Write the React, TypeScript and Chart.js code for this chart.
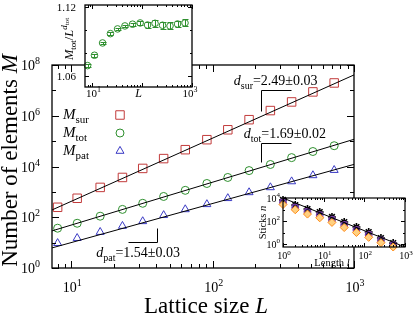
import React, { useEffect, useRef } from 'react';
import { Chart, registerables } from 'chart.js';

Chart.register(...registerables);

// ---------------- main panel data ----------------
const latticeSizes = [8, 11, 16, 23, 32, 45, 64, 91, 128, 181, 256, 362, 512, 724];
const mSur = [247, 560, 1500, 3700, 8400, 20500, 46000, 114000, 280000, 700000, 1.6e6, 3.5e6, 8.7e6, 1.96e7];
const mTot = [37, 58, 110, 204, 355, 660, 1150, 2140, 3700, 6900, 12000, 22400, 39000, 66000];
const mPat = [9.5, 15, 26, 45, 69, 120, 204, 324, 560, 955, 1500, 2570, 4470, 7200];
const fitRangeL = [7.3, 1000];
const fitSur = [194, 4.06e7];
const fitTot = [29, 1.18e5];
const fitPat = [6.2, 1.21e4];
const mainYTickExps = [0, 2, 4, 6, 8];
const mainXTickExps = [1, 2, 3];
const slopeLabels = [
  { sub: 'sur', text: '=2.49±0.03', L: 141, M: 1.64e7 },
  { sub: 'tot', text: '=1.69±0.02', L: 166, M: 1.37e5 },
  { sub: 'pat', text: '=1.54±0.03', L: 15, M: 2.7 },
];
const slopeBrackets = [
  [[357, 1.05e7], [219, 1.05e7], [219, 1.58e6]],
  [[357, 8.7e4], [219, 8.7e4], [219, 1.44e4]],
  [[25, 10.5], [40.7, 10.5], [40.7, 37]],
];

// ---------------- inset 1 data ----------------
const insetRatio = [1.069, 1.078, 1.0887, 1.0968, 1.1009, 1.1035, 1.105, 1.1061, 1.1043, 1.1058, 1.1041, 1.1035, 1.1052, 1.1061];
const insetErr = [0.0012, 0.0012, 0.0012, 0.0012, 0.0012, 0.0012, 0.0013, 0.0014, 0.003, 0.003, 0.003, 0.003, 0.003, 0.003];
const insetYTicks = [1.06, 1.12];

// ---------------- inset 2 data ----------------
const stickLengths = [1, 2, 4, 8, 16, 32, 64, 128, 256, 512];
const sticksBlack = [6760, 2450, 1100, 600, 224, 81, 30, 11, 3.3, 1.2];
const sticksPurple = [4200, 1500, 650, 330, 130, 46, 17, 6.5, 2.1, 0.8];
const sticksOrange = [2700, 950, 400, 190, 75, 27, 10, 3.8, 1.3, 0.55];
const stickFitL = [1, 1000];
const stickFitN = [1.0e4, 0.55];

// ---------------- helpers ----------------
const SERIF = '"Liberation Serif", "Times New Roman", Times, serif';
const F = (size: number, italic = false) => `${italic ? 'italic ' : ''}${size}px ${SERIF}`;

type Seg = { t: string; font: string; dy?: number };

function richWidth(ctx: CanvasRenderingContext2D, segs: Seg[]) {
  let w = 0;
  for (const s of segs) {
    ctx.font = s.font;
    w += ctx.measureText(s.t).width;
  }
  return w;
}

function drawRich(ctx: CanvasRenderingContext2D, segs: Seg[], x: number, y: number, align: 'left' | 'center' | 'right') {
  const w = richWidth(ctx, segs);
  let cx = align === 'left' ? x : align === 'center' ? x - w / 2 : x - w;
  ctx.textAlign = 'left';
  ctx.textBaseline = 'alphabetic';
  for (const s of segs) {
    ctx.font = s.font;
    ctx.fillText(s.t, cx, y + (s.dy || 0));
    cx += ctx.measureText(s.t).width;
  }
}

function pow10(exp: number, base: number, sup: number, dy: number): Seg[] {
  return [
    { t: '10', font: F(base) },
    { t: String(exp), font: F(sup), dy: -dy },
  ];
}

function logTickList(min: number, max: number, minor: boolean) {
  const out: { v: number; major: boolean; d: number }[] = [];
  const d0 = Math.floor(Math.log10(min));
  const d1 = Math.ceil(Math.log10(max));
  for (let d = d0; d <= d1; d++) {
    for (let m = 1; m <= (minor ? 9 : 1); m++) {
      const v = m * Math.pow(10, d);
      if (v >= min * 0.9999 && v <= max * 1.0001) out.push({ v, major: m === 1, d });
    }
  }
  return out;
}

function drawTicksX(chart: any, ticks: { v: number; major: boolean }[], majorLen: number, minorLen: number) {
  const ctx = chart.ctx as CanvasRenderingContext2D;
  const a = chart.chartArea;
  const s = chart.scales.x;
  ctx.beginPath();
  for (const t of ticks) {
    const p = Math.round(s.getPixelForValue(t.v)) + 0.5;
    const len = t.major ? majorLen : minorLen;
    ctx.moveTo(p, a.bottom);
    ctx.lineTo(p, a.bottom - len);
    ctx.moveTo(p, a.top);
    ctx.lineTo(p, a.top + len);
  }
  ctx.stroke();
}

function drawTicksY(chart: any, ticks: { v: number; major: boolean }[], majorLen: number, minorLen: number) {
  const ctx = chart.ctx as CanvasRenderingContext2D;
  const a = chart.chartArea;
  const s = chart.scales.y;
  ctx.beginPath();
  for (const t of ticks) {
    const p = Math.round(s.getPixelForValue(t.v)) + 0.5;
    const len = t.major ? majorLen : minorLen;
    ctx.moveTo(a.left, p);
    ctx.lineTo(a.left + len, p);
    ctx.moveTo(a.right, p);
    ctx.lineTo(a.right - len, p);
  }
  ctx.stroke();
}

function drawMarker(ctx: CanvasRenderingContext2D, style: string, x: number, y: number, r: number, color: string) {
  ctx.save();
  ctx.strokeStyle = color;
  ctx.lineWidth = 1;
  ctx.beginPath();
  if (style === 'rect') {
    const s = r * Math.SQRT1_2;
    ctx.rect(x - s, y - s, 2 * s, 2 * s);
  } else if (style === 'circle') {
    ctx.arc(x, y, r, 0, Math.PI * 2);
  } else {
    let rad = 0;
    ctx.moveTo(x + Math.sin(rad) * r, y - Math.cos(rad) * r);
    rad += (2 * Math.PI) / 3;
    ctx.lineTo(x + Math.sin(rad) * r, y - Math.cos(rad) * r);
    rad += (2 * Math.PI) / 3;
    ctx.lineTo(x + Math.sin(rad) * r, y - Math.cos(rad) * r);
    ctx.closePath();
  }
  ctx.stroke();
  ctx.restore();
}

const RED = '#c23b3b';
const GREEN = '#2e8f2e';
const BLUE = '#3a3ac4';

// ---------------- main decoration plugin ----------------
const mainDecor = {
  id: 'mainDecor',
  afterDraw(chart: any) {
    const ctx = chart.ctx as CanvasRenderingContext2D;
    const a = chart.chartArea;
    const xs = chart.scales.x;
    const ys = chart.scales.y;
    ctx.save();
    ctx.strokeStyle = '#000';
    ctx.fillStyle = '#000';
    ctx.lineWidth = 1;

    drawTicksX(chart, logTickList(xs.min, xs.max, true), 7, 4);
    const yt = logTickList(ys.min, ys.max, false).map((t) => ({ v: t.v, major: t.d % 2 === 0 }));
    drawTicksY(chart, yt, 7, 4);

    ctx.lineWidth = 1.3;
    ctx.strokeRect(a.left, a.top, a.right - a.left, a.bottom - a.top);

    // tick labels
    for (const e of mainYTickExps) {
      const y = ys.getPixelForValue(Math.pow(10, e));
      drawRich(ctx, pow10(e, 14, 10, 6), a.left - 12, y + 5, 'right');
    }
    for (const e of mainXTickExps) {
      const x = xs.getPixelForValue(Math.pow(10, e));
      drawRich(ctx, pow10(e, 14, 10, 6), x + 1, a.bottom + 24, 'center');
    }

    // axis titles
    drawRich(ctx, [{ t: 'Lattice size ', font: F(23) }, { t: 'L', font: F(23, true) }], (a.left + a.right) / 2 + 3, a.bottom + 45, 'center');
    ctx.save();
    ctx.translate(17, (a.top + a.bottom) / 2 - 6);
    ctx.rotate(-Math.PI / 2);
    drawRich(ctx, [{ t: 'Number of elements ', font: F(23) }, { t: 'M', font: F(23, true) }], 0, 0, 'center');
    ctx.restore();

    // legend
    const legend = [
      { sub: 'sur', style: 'rect', r: 6, color: RED },
      { sub: 'tot', style: 'circle', r: 4, color: GREEN },
      { sub: 'pat', style: 'triangle', r: 4.6, color: BLUE },
    ];
    legend.forEach((l, i) => {
      const cy = a.top + 50 + i * 18;
      drawRich(ctx, [{ t: 'M', font: F(15, true) }, { t: l.sub, font: F(11), dy: 4 }], a.left + 11, cy + 4, 'left');
      drawMarker(ctx, l.style, a.left + 68, cy, l.r, l.color);
    });

    // slope annotations
    ctx.fillStyle = '#000';
    for (const s of slopeLabels) {
      drawRich(
        ctx,
        [
          { t: 'd', font: F(14, true) },
          { t: s.sub, font: F(10), dy: 4 },
          { t: s.text, font: F(14) },
        ],
        xs.getPixelForValue(s.L),
        ys.getPixelForValue(s.M),
        'left'
      );
    }
    ctx.lineWidth = 1;
    ctx.strokeStyle = '#000';
    for (const b of slopeBrackets) {
      ctx.beginPath();
      b.forEach((p, i) => {
        const px = Math.round(xs.getPixelForValue(p[0])) + 0.5;
        const py = Math.round(ys.getPixelForValue(p[1])) + 0.5;
        if (i === 0) ctx.moveTo(px, py);
        else ctx.lineTo(px, py);
      });
      ctx.stroke();
    }
    ctx.restore();
  },
};

// ---------------- inset 1 plugin ----------------
const inset1Decor = {
  id: 'inset1Decor',
  beforeDraw(chart: any) {
    const ctx = chart.ctx as CanvasRenderingContext2D;
    const a = chart.chartArea;
    ctx.save();
    ctx.fillStyle = '#fff';
    ctx.fillRect(a.left, a.top, a.right - a.left, a.bottom - a.top);
    ctx.restore();
  },
  afterDatasetsDraw(chart: any) {
    const ctx = chart.ctx as CanvasRenderingContext2D;
    const xs = chart.scales.x;
    const ys = chart.scales.y;
    ctx.save();
    ctx.strokeStyle = GREEN;
    ctx.lineWidth = 1;
    ctx.beginPath();
    latticeSizes.forEach((L, i) => {
      const x = Math.round(xs.getPixelForValue(L)) + 0.5;
      const y1 = Math.round(ys.getPixelForValue(insetRatio[i] - insetErr[i])) + 0.5;
      const y2 = Math.round(ys.getPixelForValue(insetRatio[i] + insetErr[i])) + 0.5;
      ctx.moveTo(x, y1);
      ctx.lineTo(x, y2);
      ctx.moveTo(x - 3, y1);
      ctx.lineTo(x + 3, y1);
      ctx.moveTo(x - 3, y2);
      ctx.lineTo(x + 3, y2);
    });
    ctx.stroke();
    ctx.restore();
  },
  afterDraw(chart: any) {
    const ctx = chart.ctx as CanvasRenderingContext2D;
    const a = chart.chartArea;
    const xs = chart.scales.x;
    const ys = chart.scales.y;
    ctx.save();
    ctx.strokeStyle = '#000';
    ctx.fillStyle = '#000';
    ctx.lineWidth = 1;
    drawTicksX(chart, logTickList(xs.min, xs.max, true), 4, 2);
    drawTicksY(
      chart,
      [1.06, 1.08, 1.1, 1.12].map((v) => ({ v, major: insetYTicks.includes(v) })),
      4,
      2
    );
    ctx.lineWidth = 1.3;
    ctx.strokeRect(a.left, a.top, a.right - a.left, a.bottom - a.top);

    for (const v of insetYTicks) {
      drawRich(ctx, [{ t: v.toFixed(2), font: F(11) }], a.left - 9, ys.getPixelForValue(v) + 4, 'right');
    }
    drawRich(ctx, pow10(1, 11, 8, 5), xs.getPixelForValue(10) + 1, a.bottom + 10, 'center');
    drawRich(ctx, pow10(3, 11, 8, 5), xs.getPixelForValue(1000) - 2, a.bottom + 10, 'center');
    drawRich(ctx, [{ t: 'L', font: F(12, true) }], (a.left + a.right) / 2, a.bottom + 10, 'center');

    ctx.save();
    ctx.translate(a.left - 12, a.top + 34);
    ctx.rotate(-Math.PI / 2);
    drawRich(
      ctx,
      [
        { t: 'M', font: F(12.5, true) },
        { t: 'tot', font: F(9), dy: 2.5 },
        { t: '/', font: F(12.5) },
        { t: 'L', font: F(12.5, true) },
        { t: 'd', font: F(9, true), dy: -6 },
        { t: 'tot', font: F(7), dy: -4 },
      ],
      0,
      0,
      'center'
    );
    ctx.restore();
    ctx.restore();
  },
};

// ---------------- inset 2 plugin ----------------
const inset2Decor = {
  id: 'inset2Decor',
  beforeDraw(chart: any) {
    const ctx = chart.ctx as CanvasRenderingContext2D;
    const a = chart.chartArea;
    ctx.save();
    ctx.fillStyle = '#fff';
    ctx.fillRect(a.left, a.top, a.right - a.left, a.bottom - a.top);
    ctx.restore();
  },
  afterDraw(chart: any) {
    const ctx = chart.ctx as CanvasRenderingContext2D;
    const a = chart.chartArea;
    const xs = chart.scales.x;
    const ys = chart.scales.y;
    ctx.save();
    ctx.strokeStyle = '#000';
    ctx.fillStyle = '#000';
    ctx.lineWidth = 1;
    drawTicksX(chart, logTickList(xs.min, xs.max, true), 4, 2);
    const yt = logTickList(ys.min, ys.max, false).map((t) => ({ v: t.v, major: t.d % 2 === 0 }));
    drawTicksY(chart, yt, 4, 2);
    ctx.lineWidth = 1.2;
    ctx.strokeRect(a.left, a.top, a.right - a.left, a.bottom - a.top);

    for (const e of [0, 1, 2, 3]) {
      drawRich(ctx, pow10(e, 10, 7, 4.5), xs.getPixelForValue(Math.pow(10, e)) + 1, a.bottom + 12, 'center');
    }
    for (const e of [0, 2, 4]) {
      drawRich(ctx, pow10(e, 10, 7, 4.5), a.left - 3, ys.getPixelForValue(Math.pow(10, e)) + 3.5, 'right');
    }
    drawRich(ctx, [{ t: 'Length ', font: F(10.5) }, { t: 'l', font: F(10.5, true) }], a.left + 49, a.bottom + 19, 'center');
    ctx.save();
    ctx.translate(a.left - 17, (a.top + a.bottom) / 2);
    ctx.rotate(-Math.PI / 2);
    drawRich(ctx, [{ t: 'Sticks ', font: F(10.5) }, { t: 'n', font: F(10.5, true) }], 0, 0, 'center');
    ctx.restore();
    ctx.restore();
  },
};

function pts(xs: number[], ys: number[]) {
  return xs.map((x, i) => ({ x, y: ys[i] }));
}

export default function App() {
  const mainRef = useRef<HTMLCanvasElement>(null);
  const in1Ref = useRef<HTMLCanvasElement>(null);
  const in2Ref = useRef<HTMLCanvasElement>(null);

  useEffect(() => {
    const charts: Chart[] = [];
    const baseOpts = {
      animation: false as const,
      responsive: false,
      maintainAspectRatio: false,
      events: [] as any[],
      plugins: { legend: { display: false }, tooltip: { enabled: false } },
    };

    const lineDs = (data: any) => ({
      data,
      showLine: true,
      borderColor: '#000',
      borderWidth: 1,
      pointRadius: 0,
    });

    charts.push(
      new Chart(mainRef.current!, {
        type: 'scatter',
        data: {
          datasets: [
            lineDs(pts(fitRangeL, fitSur)),
            lineDs(pts(fitRangeL, fitTot)),
            lineDs(pts(fitRangeL, fitPat)),
            {
              data: pts(latticeSizes, mSur),
              pointStyle: 'rect',
              pointRadius: 6,
              borderColor: RED,
              backgroundColor: 'transparent',
              borderWidth: 1,
            },
            {
              data: pts(latticeSizes, mTot),
              pointStyle: 'circle',
              pointRadius: 4,
              borderColor: GREEN,
              backgroundColor: 'transparent',
              borderWidth: 1,
            },
            {
              data: pts(latticeSizes, mPat),
              pointStyle: 'triangle',
              pointRadius: 4.6,
              borderColor: BLUE,
              backgroundColor: 'transparent',
              borderWidth: 1,
            },
          ] as any,
        },
        options: {
          ...baseOpts,
          layout: { padding: { left: 52, right: 61, top: 65, bottom: 51 } },
          scales: {
            x: { type: 'logarithmic', min: 7.3, max: 1000, display: false },
            y: { type: 'logarithmic', min: 1, max: 1e8, display: false },
          },
        } as any,
        plugins: [mainDecor],
      })
    );

    charts.push(
      new Chart(in1Ref.current!, {
        type: 'scatter',
        data: {
          datasets: [
            {
              data: pts(latticeSizes, insetRatio),
              pointStyle: 'circle',
              pointRadius: 3.3,
              borderColor: GREEN,
              backgroundColor: 'transparent',
              borderWidth: 1,
              clip: false,
            },
          ] as any,
        },
        options: {
          ...baseOpts,
          layout: { padding: { left: 30, right: 8, top: 5, bottom: 13 } },
          scales: {
            x: { type: 'logarithmic', min: 7.1, max: 1000, display: false },
            y: { type: 'linear', min: 1.0504, max: 1.1217, display: false },
          },
        } as any,
        plugins: [inset1Decor],
      })
    );

    charts.push(
      new Chart(in2Ref.current!, {
        type: 'scatter',
        data: {
          datasets: [
            lineDs(pts(stickFitL, stickFitN)),
            {
              data: pts(stickLengths, sticksOrange),
              pointStyle: 'rectRot',
              pointRadius: 4,
              borderColor: '#ff8c1a',
              backgroundColor: '#ffd080',
              borderWidth: 1,
              clip: false,
            },
            {
              data: pts(stickLengths, sticksPurple),
              pointStyle: 'circle',
              pointRadius: 3.3,
              borderColor: '#7a3aa8',
              backgroundColor: 'rgba(90,90,220,0.35)',
              borderWidth: 1.2,
              clip: false,
            },
            {
              data: pts(stickLengths, sticksBlack),
              pointStyle: 'star',
              pointRadius: 4,
              borderColor: '#000',
              backgroundColor: '#000',
              borderWidth: 1.6,
              clip: false,
            },
          ] as any,
        },
        options: {
          ...baseOpts,
          layout: { padding: { left: 33, right: 10, top: 13, bottom: 23 } },
          scales: {
            x: { type: 'logarithmic', min: 1, max: 1000, display: false },
            y: { type: 'logarithmic', min: 0.55, max: 1e4, display: false },
          },
        } as any,
        plugins: [inset2Decor],
      })
    );

    return () => charts.forEach((c) => c.destroy());
  }, []);

  return (
    <div style={{ position: 'absolute', left: 0, top: 0, width: 415, height: 319, background: '#fff', overflow: 'hidden' }}>
      <canvas ref={mainRef} width={415} height={319} style={{ position: 'absolute', left: 0, top: 0 }} />
      <canvas ref={in1Ref} width={145} height={100} style={{ position: 'absolute', left: 55, top: 0 }} />
      <canvas ref={in2Ref} width={165} height={85} style={{ position: 'absolute', left: 250, top: 185 }} />
    </div>
  );
}
